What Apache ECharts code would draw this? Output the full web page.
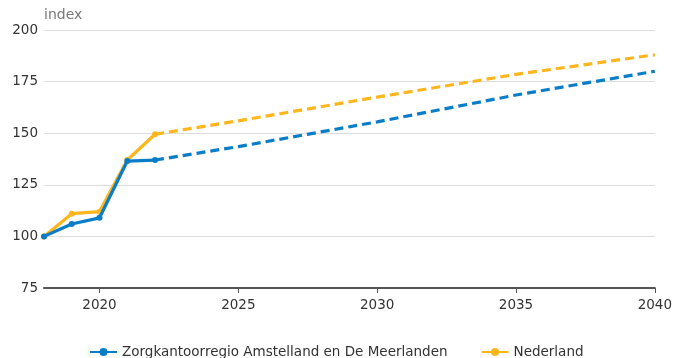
<!DOCTYPE html>
<html>
<head>
<meta charset="utf-8">
<script src="https://cdn.jsdelivr.net/npm/echarts@6/dist/echarts.min.js"></script>
<style>html,body{margin:0;padding:0;background:#fff}#c{width:675px;height:358px}</style>
</head>
<body>
<div id="c"></div>
<script>
const seriesNames = ['Zorgkantoorregio Amstelland en De Meerlanden', 'Nederland'];
const histYears = [2018, 2019, 2020, 2021, 2022];
const progYears = [2022, 2025, 2030, 2035, 2040];
const regioHist = [100, 106, 109, 136.5, 137];
const regioProg = [137, 143.5, 155.5, 168.5, 180];
const nlHist = [100, 111, 112, 137, 149.5];
const nlProg = [149.5, 156, 167.5, 178.5, 188];
const xTicks = [2020, 2025, 2030, 2035, 2040];
const colors = ['#0a7dc8', '#fdb61c'];

const zip = (xs, ys) => xs.map((x, i) => [x, ys[i]]);

const chart = echarts.init(document.getElementById('c'), null, {renderer: 'canvas'});
const fontFamily = 'DejaVu Sans, Verdana, sans-serif';

function solid(name, color, xs, ys, z) {
  return {
    name, type: 'line', data: zip(xs, ys), z,
    lineStyle: {color, width: 3.2},
    itemStyle: {color},
    symbol: 'circle', symbolSize: 6, showSymbol: true,
    animation: false
  };
}
function dashed(name, color, xs, ys, z) {
  return {
    name, type: 'line', data: zip(xs, ys), z,
    lineStyle: {color, width: 3.2, type: [9, 5]},
    itemStyle: {color},
    showSymbol: false, symbol: 'none',
    animation: false
  };
}

chart.setOption({
  animation: false,
  color: colors,
  textStyle: {fontFamily},
  grid: {left: 44, right: 19, top: 30, bottom: 70, containLabel: false},
  legend: {
    top: 340,
    left: 84,
    itemGap: 33,
    itemWidth: 27,
    itemHeight: 10,
    textStyle: {fontSize: 13.5, color: '#333', fontFamily},
    data: seriesNames
  },
  xAxis: {
    type: 'value', min: 2018, max: 2040,
    axisLine: {show: true, lineStyle: {color: '#555', width: 2}},
    axisTick: {show: true, length: 5, lineStyle: {color: '#555'}, customValues: xTicks},
    axisLabel: {color: '#333', fontSize: 13.5, margin: 10, customValues: xTicks, formatter: v => String(v)},
    splitLine: {show: false}
  },
  yAxis: {
    type: 'value', min: 75, max: 200, interval: 25,
    name: 'index',
    nameLocation: 'end',
    nameGap: 8,
    nameTextStyle: {color: '#777', fontSize: 14, align: 'left'},
    axisLine: {show: false},
    axisTick: {show: false},
    axisLabel: {color: '#333', fontSize: 13.5, margin: 6},
    splitLine: {show: true, lineStyle: {color: '#dcdcdc', width: 1}}
  },
  series: [
    solid(seriesNames[0], colors[0], histYears, regioHist, 4),
    dashed(seriesNames[0], colors[0], progYears, regioProg, 4),
    solid(seriesNames[1], colors[1], histYears, nlHist, 3),
    dashed(seriesNames[1], colors[1], progYears, nlProg, 3)
  ]
});
</script>
</body>
</html>
